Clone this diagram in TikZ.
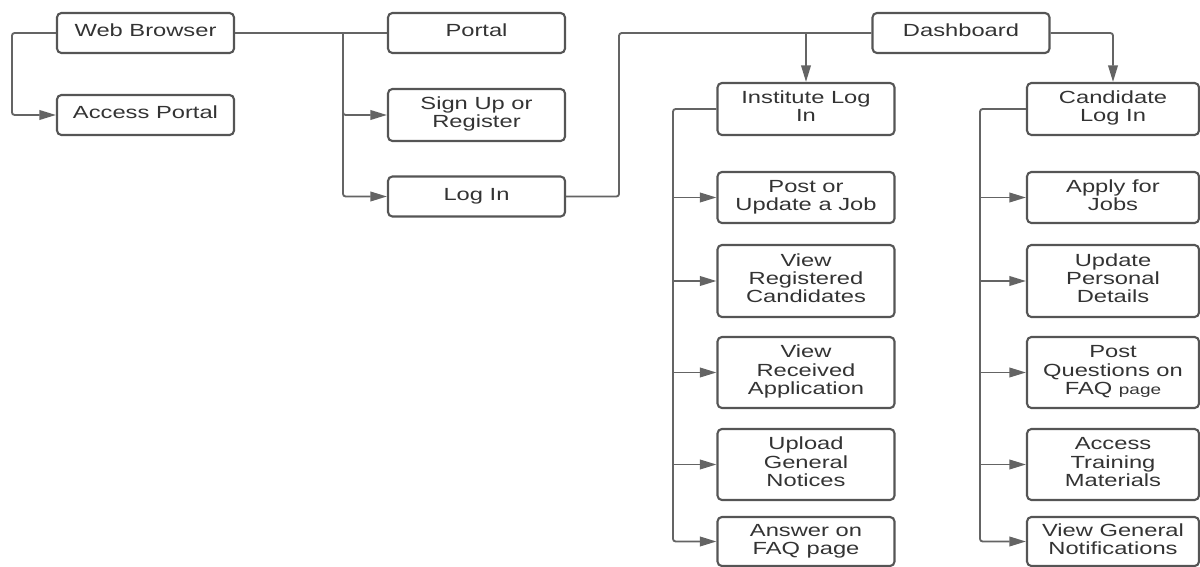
\documentclass[tikz,border=0pt]{standalone}
\usepackage{fontspec}
\setmainfont{Liberation Sans}
\usepackage{graphicx}
\usetikzlibrary{arrows.meta,positioning}
\definecolor{edge}{HTML}{555555}
\definecolor{wire}{HTML}{646464}
\definecolor{ink}{HTML}{333333}
\newcommand{\wide}[1]{\scalebox{1.35}[1]{\begin{tabular}{@{}c@{}}#1\end{tabular}}}

\begin{document}
\begin{tikzpicture}[
    x=0.02cm, y=-0.02cm,
    pagebox/.style={draw=edge, line width=1.2pt, rounded corners=2.5pt,
                    minimum width=3.54cm, minimum height=0.8cm, inner sep=0pt,
                    text=ink, font=\fontsize{10}{10.4}\selectfont},
    candbox/.style={pagebox, minimum width=3.44cm},
    lnk/.style={draw=wire, line width=1.05pt, rounded corners=1.5pt},
    arr/.style={lnk, -{Triangle[length=9.5pt, width=5.5pt]}}
  ]
  \useasboundingbox (0,0) rectangle (1200,567);

  % start and portal
  \node[pagebox] (wb) at (145.5,33) {\wide{Web Browser}};
  \node[pagebox] (access) at (145.5,115) {\wide{Access Portal}};
  \node[pagebox] (portal) at (476.5,33) {\wide{Portal}};
  \node[pagebox, minimum height=1.04cm] (signup) at (476.5,115) {\wide{Sign Up or\\Register}};
  \node[pagebox] (login) at (476.5,196.5) {\wide{Log In}};
  \node[pagebox] (dash) at (961,33) {\wide{Dashboard}};

  % institute side
  \node[pagebox, minimum height=1.04cm] (inst) at (806,109) {\wide{Institute Log\\In}};
  \node[pagebox, minimum height=1.02cm] (i1) at (806,197.5) {\wide{Post or\\Update a Job}};
  \node[pagebox, minimum height=1.44cm] (i2) at (806,281) {\wide{View\\Registered\\Candidates}};
  \node[pagebox, minimum height=1.42cm] (i3) at (806,372.5) {\wide{View\\Received\\Application}};
  \node[pagebox, minimum height=1.42cm] (i4) at (806,464.5) {\wide{Upload\\General\\Notices}};
  \node[pagebox, minimum height=0.98cm] (i5) at (806,541.5) {\wide{Answer on\\FAQ page}};

  % candidate side
  \node[candbox, minimum height=1.04cm] (cand) at (1113,109) {\wide{Candidate\\Log In}};
  \node[candbox, minimum height=1.02cm] (c1) at (1113,197.5) {\wide{Apply for\\Jobs}};
  \node[candbox, minimum height=1.44cm] (c2) at (1113,281) {\wide{Update\\Personal\\Details}};
  \node[candbox, minimum height=1.42cm] (c3) at (1113,372.5)
    {\wide{Post\\Questions on\\FAQ {\fontsize{8}{8}\selectfont page}}};
  \node[candbox, minimum height=1.42cm] (c4) at (1113,464.5) {\wide{Access\\Training\\Materials}};
  \node[candbox, minimum height=0.98cm] (c5) at (1113,541.5) {\wide{View General\\Notifications}};

  \coordinate (bus1) at (343,33);
  \coordinate (ibus) at (673,109);
  \coordinate (cbus) at (980,109);

  \draw[arr] (wb.west) -- ++(-44,0) |- (access.west);
  \draw[lnk] (wb.east) -- (portal.west);
  \draw[arr] (bus1) |- (signup.west);
  \draw[arr] (bus1) |- (login.west);
  \draw[lnk] (login.east) -- ++(53,0) |- (dash.west);
  \draw[arr] (inst.north |- dash.west) -- (inst.north);
  \draw[arr] (dash.east) -| (cand.north);

  % branches to the tasks
  \draw[arr] (inst.west) -- (ibus) |- (i5.west);
  \draw[arr] (ibus |- i1.west) -- (i1.west);
  \draw[arr] (ibus |- i2.west) -- (i2.west);
  \draw[arr] (ibus |- i3.west) -- (i3.west);
  \draw[arr] (ibus |- i4.west) -- (i4.west);

  \draw[arr] (cand.west) -- (cbus) |- (c5.west);
  \draw[arr] (cbus |- c1.west) -- (c1.west);
  \draw[arr] (cbus |- c2.west) -- (c2.west);
  \draw[arr] (cbus |- c3.west) -- (c3.west);
  \draw[arr] (cbus |- c4.west) -- (c4.west);
\end{tikzpicture}
\end{document}
